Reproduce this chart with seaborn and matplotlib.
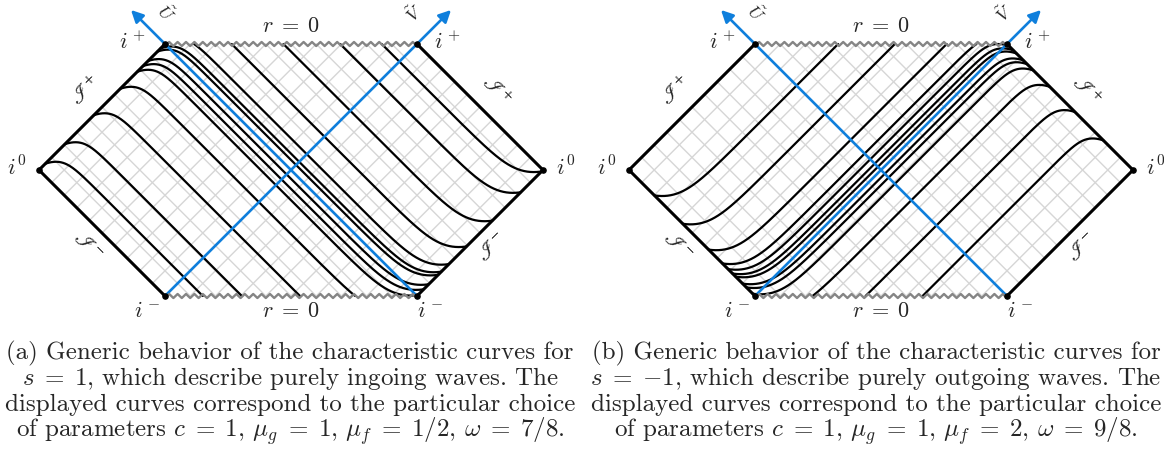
import numpy as np
import pandas as pd
import matplotlib.pyplot as plt
import seaborn as sns

# intercept of the straight part of every characteristic curve
# (a): q = x + y of the ingoing curves, (b): p = x - y of the outgoing ones
curves_a = [-1.70, -1.39, -0.93, -0.51, -0.24, -0.15, -0.07,
            0.08, 0.13, 0.25, 0.53, 0.94, 1.39, 1.72]
curves_b = [-1.34, -0.89, -0.48, -0.26, -0.17, -0.10, -0.05,
            0.06, 0.12, 0.22, 0.48, 0.88, 1.33]

captions_a = [
    "(a) Generic behavior of the characteristic curves for",
    r"$s\;=\;1$, which describe purely ingoing waves. The",
    "displayed curves correspond to the particular choice",
    r"of parameters $c\;=\;1$, $\mu_g\;=\;1$, $\mu_f\;=\;1/2$, $\omega\;=\;7/8$.",
]
captions_b = [
    "(b) Generic behavior of the characteristic curves for",
    r"$s\;=\;{-1}$, which describe purely outgoing waves. The",
    "displayed curves correspond to the particular choice",
    r"of parameters $c\;=\;1$, $\mu_g\;=\;1$, $\mu_f\;=\;2$, $\omega\;=\;9/8$.",
]

BLUE = "#0f7fdc"
GRID = "#d6d6d6"
# bend near scri+ is tight, near scri- it is wider
L_PLUS, A_PLUS = 0.10, 2.0
L_MINUS, A_MINUS = 0.19, 1.35
GRID_STEP = 0.2
SCALE = 126.0  # pixels per diagram unit
W, H = 1164, 458

sns.set_theme(style="white")
plt.rcParams["font.family"] = ["cmr10", "DejaVu Serif"]
plt.rcParams["mathtext.fontset"] = "cm"
plt.rcParams["axes.unicode_minus"] = False


def to_xy(p, q):
    return (p + q) / 2, (q - p) / 2


def bend(t, plus_at_left):
    if plus_at_left:
        return (A_MINUS * L_MINUS * np.exp(-(2 - t) / L_MINUS)
                - A_PLUS * L_PLUS * np.exp(-(t + 2) / L_PLUS))
    return (A_PLUS * L_PLUS * np.exp(-(2 - t) / L_PLUS)
            - A_MINUS * L_MINUS * np.exp(-(t + 2) / L_MINUS))


def curve_frame(intercepts, kind):
    t = np.linspace(-2, 2, 4000)
    parts = []
    for i, c in enumerate(intercepts):
        n = c + bend(t, kind == "q")
        p, q = (t, n) if kind == "q" else (n, t)
        x, y = to_xy(p, q)
        keep = (np.abs(y) <= 1) & (np.abs(p) <= 2) & (np.abs(q) <= 2)
        parts.append(pd.DataFrame({"x": x[keep], "y": y[keep], "curve": i}))
    return pd.concat(parts)


def grid_frame():
    vals = np.arange(-2 + GRID_STEP, 2 - 1e-9, GRID_STEP)
    parts = []
    k = 0
    for c in vals:
        s = np.array([max(-2, c - 2), min(2, c + 2)])
        for p, q in ((np.full(2, c), s), (s, np.full(2, c))):
            x, y = to_xy(p, q)
            parts.append(pd.DataFrame({"x": x, "y": y, "line": k}))
            k += 1
    return pd.concat(parts)


def zigzag(y0):
    xs = np.linspace(-1, 1, 61)
    ys = y0 + 0.016 * np.where(np.arange(61) % 2 == 0, -1, 1)
    return xs, ys


def draw_panel(ax, intercepts, kind, captions, cx, cap_x):
    sns.lineplot(data=grid_frame(), x="x", y="y", units="line", estimator=None,
                 sort=False, color=GRID, lw=1.0, ax=ax, legend=False)
    sns.lineplot(data=curve_frame(intercepts, kind), x="x", y="y", units="curve",
                 estimator=None, sort=False, color="black", lw=1.6, ax=ax, legend=False)

    # null axes U~ and V~
    ax.plot([-1, 1], [1, -1], color=BLUE, lw=1.9, solid_capstyle="butt")
    ax.plot([-1, 1], [-1, 1], color=BLUE, lw=1.9, solid_capstyle="butt")
    for tip, start in (((-1.27, 1.27), (-1, 1)), ((1.27, 1.27), (1, 1))):
        ax.annotate("", xy=tip, xytext=start,
                    arrowprops=dict(arrowstyle="-|>", color=BLUE, lw=1.9,
                                    mutation_scale=18, shrinkA=0, shrinkB=0))

    # boundary: scri edges and r = 0 singularities
    ax.plot([-2, -1], [0, 1], color="black", lw=2.2)
    ax.plot([1, 2], [1, 0], color="black", lw=2.2)
    ax.plot([-2, -1], [0, -1], color="black", lw=2.2)
    ax.plot([1, 2], [-1, 0], color="black", lw=2.2)
    for y0 in (1, -1):
        zx, zy = zigzag(y0)
        ax.plot(zx, zy, color="#858585", lw=1.7)
    ax.scatter([-2, -1, 1, 2, 1, -1], [0, 1, 1, 0, -1, -1], s=14,
               color="black", zorder=10)

    fs = 16
    ax.text(-1.26, 1.02, "$i^+$", fontsize=fs, ha="center", va="center")
    ax.text(1.24, 1.02, "$i^+$", fontsize=fs, ha="center", va="center")
    ax.text(-1.14, -1.12, "$i^-$", fontsize=fs, ha="center", va="center")
    ax.text(1.10, -1.12, "$i^-$", fontsize=fs, ha="center", va="center")
    ax.text(-2.18, 0.02, "$i^0$", fontsize=fs, ha="center", va="center")
    ax.text(2.18, 0.02, "$i^0$", fontsize=fs, ha="center", va="center")
    ax.text(0, 1.14, r"$r\;=\;0$", fontsize=fs, ha="center", va="center")
    ax.text(0, -1.12, r"$r\;=\;0$", fontsize=fs, ha="center", va="center")
    ax.text(-0.99, 1.245, r"$\tilde{U}$", fontsize=13, ha="center", va="center",
            rotation=-45)
    ax.text(0.98, 1.245, r"$\tilde{V}$", fontsize=13, ha="center", va="center",
            rotation=45)
    for (x, y, rot, sign) in ((-1.63, 0.63, 45, "+"), (1.63, 0.63, -45, "+"),
                              (-1.62, -0.61, -45, "-"), (1.60, -0.62, 45, "-")):
        ax.text(x, y, r"$\mathscr{I}^{%s}$" % sign, fontsize=15, ha="center",
                va="center", rotation=rot, math_fontfamily="stix")

    ax.set_xlim(-cx / SCALE, (W / 2 - cx) / SCALE)
    ax.set_ylim((170 - H) / SCALE, 170 / SCALE)
    ax.set_axis_off()

    for i, line in enumerate(captions):
        fig.text(cap_x / W, 1 - (359 + 26 * i) / H, line, fontsize=18,
                 ha="center", va="baseline")


fig = plt.figure(figsize=(W / 100, H / 100), dpi=100)
ax_a = fig.add_axes([0, 0, 0.5, 1])
ax_b = fig.add_axes([0.5, 0, 0.5, 1])
draw_panel(ax_a, curves_a, "q", captions_a, 291, 290)
draw_panel(ax_b, curves_b, "p", captions_b, 881 - W / 2, 876)

fig.savefig("out.png", dpi=100)
